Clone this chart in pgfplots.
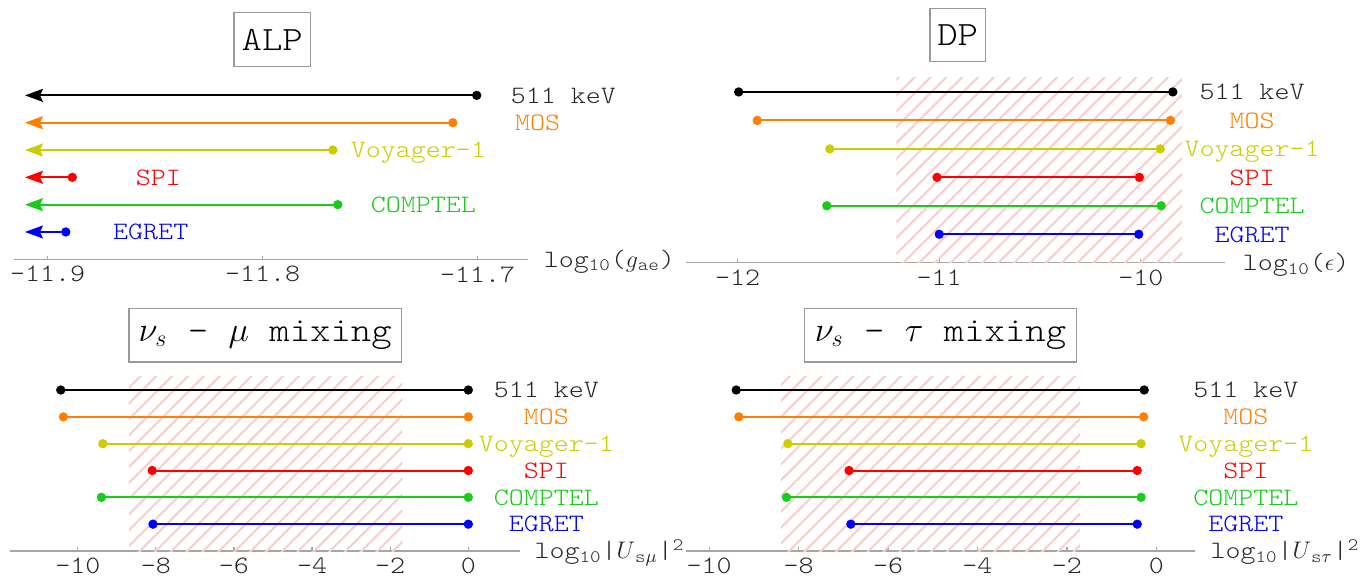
\documentclass[border=0pt]{standalone}
\usepackage{pgfplots}
\pgfplotsset{compat=1.18}
\usepackage{fontspec}
\setmainfont{lmmonolt10-regular.otf}[FakeStretch=1.143]
\usetikzlibrary{arrows.meta,patterns.meta}

\definecolor{cBlack}{rgb}{0,0,0}
\definecolor{cOrange}{rgb}{1,0.5,0}
\definecolor{cYellow}{rgb}{0.8,0.8,0}
\definecolor{cRed}{rgb}{1,0,0}
\definecolor{cGreen}{rgb}{0.1,0.8,0.1}
\definecolor{cBlue}{rgb}{0,0,1}
\definecolor{cHatch}{rgb}{0.98,0.8,0.8}

\newcommand{\lblfont}{\fontsize{12.5}{14}\selectfont}
\newcommand{\ttlfont}{\fontsize{17}{20}\selectfont}

\pgfplotsset{
  panel/.style={
    scale only axis, clip=false, anchor=south west,
    axis x line=bottom, axis y line=none,
    x axis line style={-, draw=black!35, line width=0.6pt},
    ymin=0, ymax=6.5, ytick=\empty,
    xtick align=inside, major tick length=1.8pt,
    xtick style={draw=black!35, line width=0.6pt},
    xticklabel style={font=\lblfont, text=black!85},
  },
  seg/.style={line width=1pt, mark=*, mark size=1.8pt, mark options={solid}},
  hatch/.style={draw=none, pattern={Lines[angle=45,distance=5.6pt,line width=1pt]}, pattern color=cHatch},
}
\tikzset{
  lbl/.style={font=\lblfont, anchor=base, yshift=-3.9pt, inner sep=0pt},
  xlab/.style={font=\lblfont, anchor=base west, yshift=-3.9pt, inner sep=0pt, text=black!85},
  ttl/.style={draw=black!40, line width=0.6pt, inner sep=0pt, font=\ttlfont},
  arr/.style={-{Stealth[length=9pt,width=6.5pt,inset=1.5pt]}},
}

\begin{document}
\begin{tikzpicture}
\path[use as bounding box] (0,0) rectangle (682pt,290pt);

% ---------- ALP ----------
\begin{axis}[panel, at={(7pt,160.35pt)}, width=257.15pt, height=88.8pt,
  xmin=-11.9156, xmax=-11.6764,
  xtick={-11.9,-11.8,-11.7}, xticklabels={-11.9,-11.8,-11.7}]
\addplot[seg, cBlack,  arr, mark indices={1}] coordinates {(-11.7004,6)(-11.9105,6)};
\addplot[seg, cOrange, arr, mark indices={1}] coordinates {(-11.7115,5)(-11.9105,5)};
\addplot[seg, cYellow, arr, mark indices={1}] coordinates {(-11.7673,4)(-11.9105,4)};
\addplot[seg, cRed,    arr, mark indices={1}] coordinates {(-11.8885,3)(-11.9105,3)};
\addplot[seg, cGreen,  arr, mark indices={1}] coordinates {(-11.7650,2)(-11.9105,2)};
\addplot[seg, cBlue,   arr, mark indices={1}] coordinates {(-11.8915,1)(-11.9105,1)};
\node[lbl, text=black!85] at (axis cs:-11.6601,6) {511 keV};
\node[lbl, text=cOrange]  at (axis cs:-11.6721,5) {MOS};
\node[lbl, text=cYellow]  at (axis cs:-11.7275,4) {Voyager-1};
\node[lbl, text=cRed]     at (axis cs:-11.8485,3) {SPI};
\node[lbl, text=cGreen]   at (axis cs:-11.7252,2) {COMPTEL};
\node[lbl, text=cBlue]    at (axis cs:-11.8520,1) {EGRET};
\node[xlab] at (axis cs:-11.6694,0) {log\textsubscript{10}($g$\textsubscript{ae})};
\end{axis}

% ---------- DP ----------
\begin{axis}[panel, at={(342.75pt,158.65pt)}, width=269.75pt, height=92.5pt,
  xmin=-12.259, xmax=-9.582,
  xtick={-12,-11,-10}, xticklabels={-12,-11,-10}]
\addplot[hatch] coordinates {(-11.213,6.5)(-9.796,6.5)} \closedcycle;
\addplot[seg, cBlack]  coordinates {(-11.995,6)(-9.841,6)};
\addplot[seg, cOrange] coordinates {(-11.903,5)(-9.853,5)};
\addplot[seg, cYellow] coordinates {(-11.543,4)(-9.903,4)};
\addplot[seg, cRed]    coordinates {(-11.011,3)(-10.007,3)};
\addplot[seg, cGreen]  coordinates {(-11.558,2)(-9.899,2)};
\addplot[seg, cBlue]   coordinates {(-11.000,1)(-10.010,1)};
\node[lbl, text=black!85] at (axis cs:-9.448,6) {511 keV};
\node[lbl, text=cOrange]  at (axis cs:-9.448,5) {MOS};
\node[lbl, text=cYellow]  at (axis cs:-9.448,4) {Voyager-1};
\node[lbl, text=cRed]     at (axis cs:-9.448,3) {SPI};
\node[lbl, text=cGreen]   at (axis cs:-9.448,2) {COMPTEL};
\node[lbl, text=cBlue]    at (axis cs:-9.448,1) {EGRET};
\node[xlab] at (axis cs:-9.496,0) {log\textsubscript{10}($\epsilon$)};
\end{axis}

% ---------- nu_s - mu ----------
\begin{axis}[panel, at={(4.8pt,14.5pt)}, width=254.95pt, height=87.2pt,
  xmin=-11.746, xmax=1.311,
  xtick={-10,-8,-6,-4,-2,0}, xticklabels={-10,-8,-6,-4,-2,0}]
\addplot[hatch] coordinates {(-8.689,6.5)(-1.690,6.5)} \closedcycle;
\addplot[seg, cBlack]  coordinates {(-10.436,6)(0,6)};
\addplot[seg, cOrange] coordinates {(-10.370,5)(0,5)};
\addplot[seg, cYellow] coordinates {(-9.360,4)(0,4)};
\addplot[seg, cRed]    coordinates {(-8.095,3)(0,3)};
\addplot[seg, cGreen]  coordinates {(-9.395,2)(0,2)};
\addplot[seg, cBlue]   coordinates {(-8.074,1)(0,1)};
\node[lbl, text=black!85] at (axis cs:2.0,6) {511 keV};
\node[lbl, text=cOrange]  at (axis cs:2.0,5) {MOS};
\node[lbl, text=cYellow]  at (axis cs:2.0,4) {Voyager-1};
\node[lbl, text=cRed]     at (axis cs:2.0,3) {SPI};
\node[lbl, text=cGreen]   at (axis cs:2.0,2) {COMPTEL};
\node[lbl, text=cBlue]    at (axis cs:2.0,1) {EGRET};
\node[xlab] at (axis cs:1.69,0) {log\textsubscript{10}|$U$\textsubscript{s$\mu$}|\textsuperscript{2}};
\end{axis}

% ---------- nu_s - tau ----------
\begin{axis}[panel, at={(342.75pt,14.5pt)}, width=254.5pt, height=87.2pt,
  xmin=-10.528, xmax=0.852,
  xtick={-10,-8,-6,-4,-2,0}, xticklabels={-10,-8,-6,-4,-2,0}]
\addplot[hatch] coordinates {(-8.397,6.5)(-1.710,6.5)} \closedcycle;
\addplot[seg, cBlack]  coordinates {(-9.394,6)(-0.273,6)};
\addplot[seg, cOrange] coordinates {(-9.336,5)(-0.284,5)};
\addplot[seg, cYellow] coordinates {(-8.240,4)(-0.342,4)};
\addplot[seg, cRed]    coordinates {(-6.872,3)(-0.429,3)};
\addplot[seg, cGreen]  coordinates {(-8.270,2)(-0.342,2)};
\addplot[seg, cBlue]   coordinates {(-6.832,1)(-0.429,1)};
\node[lbl, text=black!85] at (axis cs:2.0,6) {511 keV};
\node[lbl, text=cOrange]  at (axis cs:2.0,5) {MOS};
\node[lbl, text=cYellow]  at (axis cs:2.0,4) {Voyager-1};
\node[lbl, text=cRed]     at (axis cs:2.0,3) {SPI};
\node[lbl, text=cGreen]   at (axis cs:2.0,2) {COMPTEL};
\node[lbl, text=cBlue]    at (axis cs:2.0,1) {EGRET};
\node[xlab] at (axis cs:1.203,0) {log\textsubscript{10}|$U$\textsubscript{s$\tau$}|\textsuperscript{2}};
\end{axis}

% ---------- titles ----------
\node[ttl, minimum width=38.25pt, minimum height=27pt] at (136.1pt,270.15pt) {ALP};
\node[ttl, minimum width=27.8pt, minimum height=26.7pt] at (478.85pt,272.5pt) {DP};
\node[ttl, minimum width=136.2pt, minimum height=26.85pt] at (132.6pt,122.4pt) {$\nu_s$ - $\mu$ mixing};
\node[ttl, minimum width=136.2pt, minimum height=26.85pt] at (470.3pt,122.4pt) {$\nu_s$ - $\tau$ mixing};
\end{tikzpicture}
\end{document}
